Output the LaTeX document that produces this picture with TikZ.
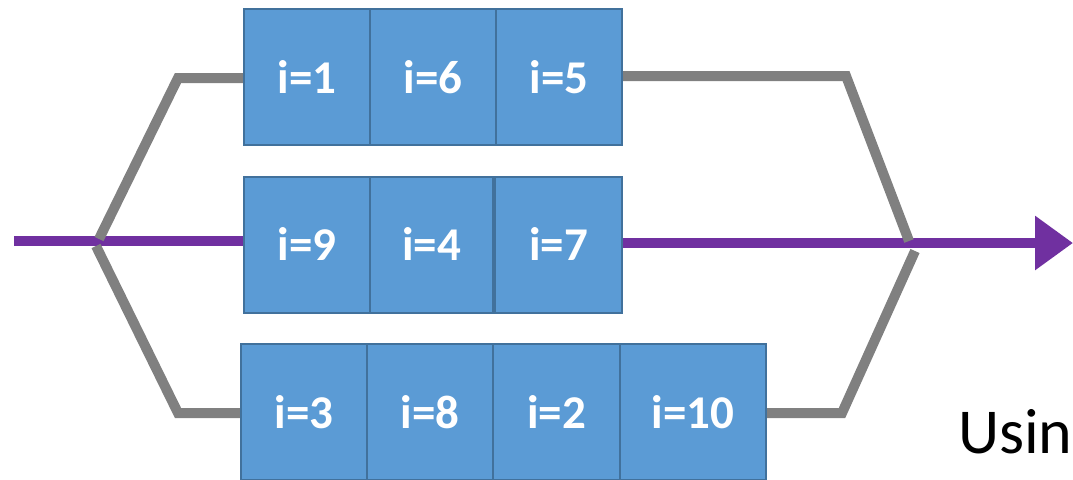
\documentclass[tikz,border=0pt]{standalone}
\usepackage{fontspec}
\setmainfont{Carlito}
\usetikzlibrary{arrows.meta,backgrounds}
\definecolor{cellfill}{HTML}{5B9BD5}
\definecolor{celledge}{HTML}{41719C}
\definecolor{wire}{HTML}{808080}
\definecolor{flow}{HTML}{7030A0}
\tikzset{
  cell/.style={rectangle, draw=celledge, fill=cellfill, line width=2pt,
    minimum height=136pt, inner sep=0pt, text=white,
    font=\fontsize{47}{50}\selectfont\bfseries},
  wirepath/.style={draw=wire, line width=10pt, line cap=butt, line join=miter},
  flowpath/.style={draw=flow, line width=10pt, line cap=butt}
}
\begin{document}
\begin{tikzpicture}[x=1pt,y=-1pt]
\useasboundingbox (0,0) rectangle (1073,479);
% row 1
\node[cell, minimum width=126pt] (a1) at (307,77) {i=1};
\node[cell, minimum width=126pt] (a2) at (433,77) {i=6};
\node[cell, minimum width=126pt] (a3) at (559,77) {i=5};
% row 2
\node[cell, minimum width=126pt] (b1) at (307,244.5) {i=9};
\node[cell, minimum width=123pt] (b2) at (431.5,244.5) {i=4};
\node[cell, minimum width=127pt] (b3) at (558.5,244.5) {i=7};
% row 3
\node[cell, minimum width=126pt] (c1) at (304,412) {i=3};
\node[cell, minimum width=126pt] (c2) at (430,412) {i=8};
\node[cell, minimum width=127pt] (c3) at (556.5,412) {i=2};
\node[cell, minimum width=146pt] (c4) at (693,412) {i=10};
% text
\node[anchor=base west, inner sep=0pt, font=\fontsize{64}{70}\selectfont] (t) at (958,453) {Usin};
% junction coordinates
\coordinate (LT) at (178,78);
\coordinate (LJa) at (99,239);
\coordinate (LJb) at (96,246);
\coordinate (LB) at (178,413);
\coordinate (RT) at (846,76);
\coordinate (RJa) at (909,241);
\coordinate (RJb) at (915,251);
\coordinate (RB) at (842,413);
\coordinate (S) at (14,241);
\coordinate (E) at (1073,243);
\begin{scope}[on background layer]
% purple flow
\draw[flowpath] (S) -- (S -| b1.west);
\draw[flowpath, -{Triangle[length=38pt,width=52pt]}] (b3.east |- E) -- (E);
% gray wires
\draw[wirepath] (LT -| a1.west) -- (LT) -- (LJa);
\draw[wirepath] (LJb) -- (LB) -- (LB -| c1.west);
\draw[wirepath] (RT -| a3.east) -- (RT) -- (RJa);
\draw[wirepath] (RJb) -- (RB) -- (RB -| c4.east);
\end{scope}
\end{tikzpicture}
\end{document}
